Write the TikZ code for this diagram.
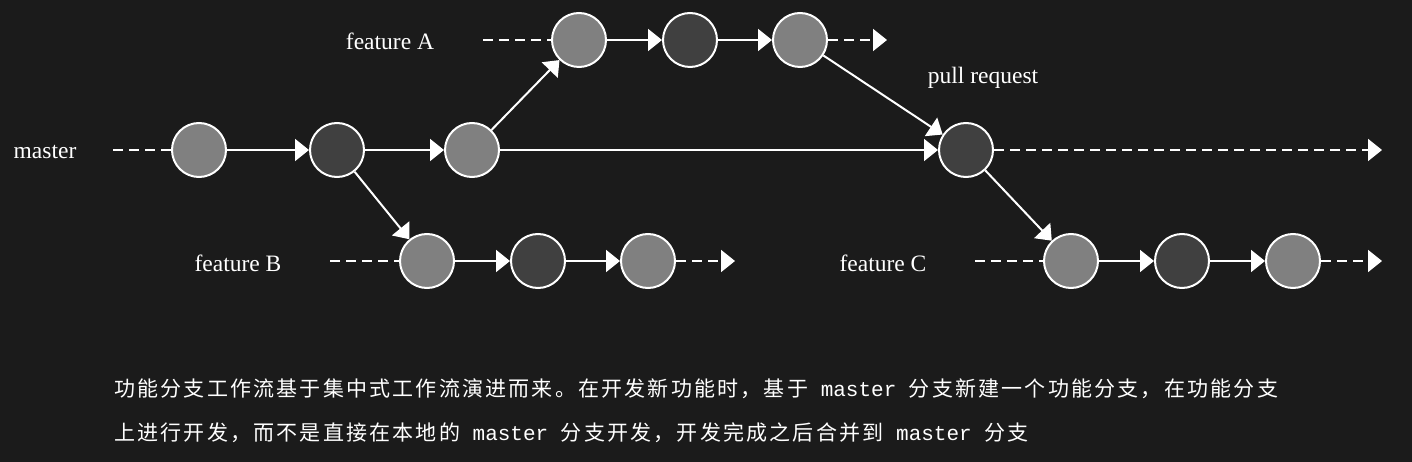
\documentclass[tikz,border=0pt]{standalone}
\usepackage{fontspec}
\setmainfont{Liberation Serif}
\newfontfamily\cjkfont[LetterSpace=10.5]{Noto Sans CJK SC}
\newfontfamily\monofont{Liberation Mono}
\usetikzlibrary{arrows.meta}
\definecolor{bg}{HTML}{1B1B1B}
\definecolor{lightc}{HTML}{808080}
\definecolor{darkc}{HTML}{404040}
\begin{document}
\begin{tikzpicture}[x=1pt,y=-1pt,
  commit/.style={circle,draw=white,line width=2pt,minimum size=54pt,inner sep=0pt},
  lc/.style={commit,fill=lightc},
  dc/.style={commit,fill=darkc},
  link/.style={draw=white,line width=2pt,-{Triangle[length=14pt,width=22pt]}},
  dline/.style={draw=white,line width=2pt,dash pattern=on 10pt off 6pt},
  dlinearr/.style={dline,-{Triangle[length=14pt,width=22pt]}},
  lbl/.style={text=white,font=\fontsize{23.5}{26}\selectfont,inner sep=0pt}]
\fill[bg] (0,0) rectangle (1412,462);
\useasboundingbox (0,0) rectangle (1412,462);
% master
\node[lc] (m1) at (199,150) {};
\node[dc] (m2) at (337,150) {};
\node[lc] (m3) at (472,150) {};
\node[dc] (m4) at (966,150) {};
% feature A
\node[lc] (a1) at (579,40) {};
\node[dc] (a2) at (690,40) {};
\node[lc] (a3) at (800,40) {};
% feature B
\node[lc] (b1) at (427,261) {};
\node[dc] (b2) at (538,261) {};
\node[lc] (b3) at (648,261) {};
% feature C
\node[lc] (c1) at (1071,261) {};
\node[dc] (c2) at (1182,261) {};
\node[lc] (c3) at (1293,261) {};
% labels
\node[lbl] (lm) at (45,152) {master};
\node[lbl] (la) at (390,41) {feature A};
\node[lbl] (lb) at (238,263) {feature B};
\node[lbl] (lcc) at (883,263) {feature C};
\node[lbl] (lp) at (983,78) {pull request};
% dashed ends
\coordinate (ms) at (113,150);
\coordinate (me) at (1382,150);
\coordinate (as) at (483,40);
\coordinate (ae) at (887,40);
\coordinate (bs) at (330,261);
\coordinate (be) at (735,261);
\coordinate (cs) at (975,261);
\coordinate (ce) at (1382,261);
\draw[dline] (ms) -- (m1);
\draw[dlinearr] (m4) -- (me);
\draw[dline] (as) -- (a1);
\draw[dlinearr] (a3) -- (ae);
\draw[dline] (bs) -- (b1);
\draw[dlinearr] (b3) -- (be);
\draw[dline] (cs) -- (c1);
\draw[dlinearr] (c3) -- (ce);
% links
\draw[link] (m1) -- (m2);
\draw[link] (m2) -- (m3);
\draw[link] (m3) -- (m4);
\draw[link] (m3) -- (a1);
\draw[link] (m2) -- (b1);
\draw[link] (a1) -- (a2);
\draw[link] (a2) -- (a3);
\draw[link] (a3) -- (m4);
\draw[link] (b1) -- (b2);
\draw[link] (b2) -- (b3);
\draw[link] (m4) -- (c1);
\draw[link] (c1) -- (c2);
\draw[link] (c2) -- (c3);
% description
\node[anchor=west,text=white,inner sep=0pt,font=\fontsize{21}{24}\selectfont] (t1) at (114,389)
  {\cjkfont 功能分支工作流基于集中式工作流演进而来。在开发新功能时，基于\monofont{} master \cjkfont 分支新建一个功能分支，在功能分支};
\node[anchor=west,text=white,inner sep=0pt,font=\fontsize{21}{24}\selectfont] (t2) at (114,433)
  {\cjkfont 上进行开发，而不是直接在本地的\monofont{} master \cjkfont 分支开发，开发完成之后合并到\monofont{} master \cjkfont 分支};
\end{tikzpicture}
\end{document}
